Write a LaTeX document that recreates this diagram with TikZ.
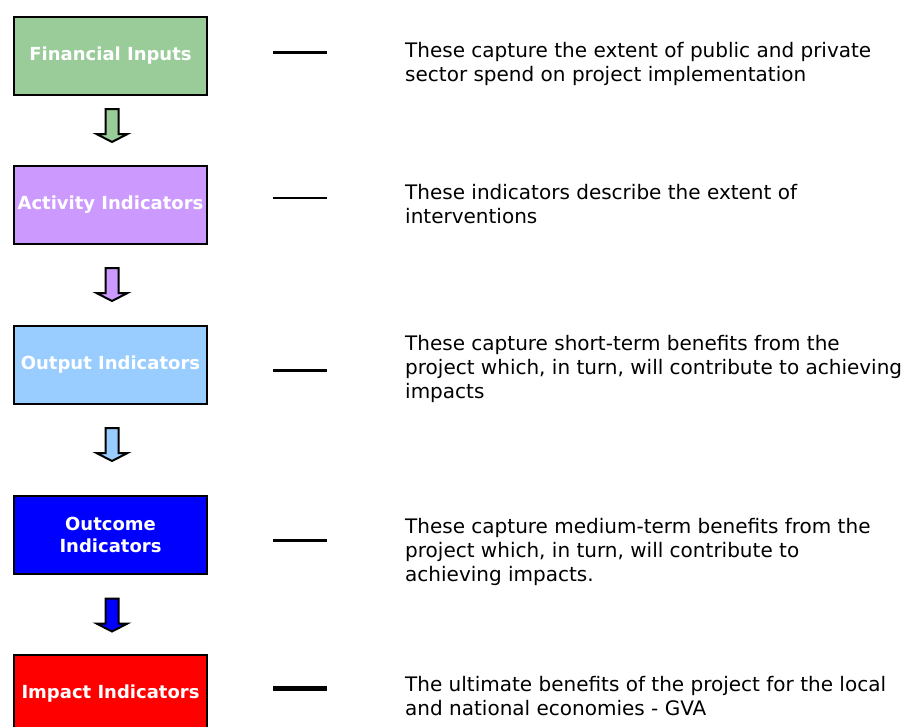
\documentclass[tikz,border=0pt]{standalone}
\usepackage{fontspec}
\setmainfont{DejaVu Sans}
\usetikzlibrary{calc}
\definecolor{fingreen}{HTML}{99CC99}
\definecolor{actlilac}{HTML}{CC99FF}
\definecolor{outsky}{HTML}{99CCFF}
\definecolor{outcblue}{HTML}{0000FF}
\definecolor{impred}{HTML}{FF0000}
\begin{document}
\begin{tikzpicture}[x=1pt,y=-1pt] % chain of indicators
\tikzstyle{stagebox} = [draw, line width=2pt, minimum width=193pt, minimum height=78pt, inner sep=0pt, text=white, align=center, font=\fontsize{18}{22}\selectfont\bfseries] % coloured stage box
\tikzstyle{stagenote} = [anchor=north west, inner sep=0pt, align=left, font=\fontsize{20}{24}\selectfont] % text on the right
\tikzset{flowarrow/.pic={\path[draw, line width=2pt, line join=miter, pic actions] (-6.5,0) -- (-6.5,25) -- (-15.5,25) -- (0,33) -- (15.5,25) -- (6.5,25) -- (6.5,0) -- cycle;}} % block arrow pointing down

\useasboundingbox (0,0) rectangle (905,726);

\node[stagebox, fill=fingreen] (fin) at (110.5,56) {Financial Inputs}; % the five stages
\node[stagebox, fill=actlilac] (act) at (110.5,205) {Activity Indicators};
\node[stagebox, fill=outsky] (outp) at (110.5,365) {Output Indicators};
\node[stagebox, fill=outcblue] (outc) at (110.5,534.5) {Outcome\\Indicators};
\node[stagebox, fill=impred] (imp) at (110.5,694) {Impact Indicators};

\foreach \from/\col/\gap in {fin/fingreen/13, act/actlilac/23, outp/outsky/23, outc/outcblue/24} % arrows between stages
    \pic[fill=\col] at ($(\from.south)+(1.5,\gap)$) {flowarrow};

\foreach \y/\w in {52.3/3, 198/2, 370.5/3, 540.5/3, 688/5} % short dashes
    \draw[line width=\w pt] (273,\y) -- (327,\y);

\node[stagenote] (n1) at (405,42) {These capture the extent of public and private\\sector spend on project implementation};
\node[stagenote] (n2) at (405,184) {These indicators describe the extent of\\interventions};
\node[stagenote] (n3) at (405,335) {These capture short-term benefits from the\\project which, in turn, will contribute to achieving\\impacts};
\node[stagenote] (n4) at (405,518) {These capture medium-term benefits from the\\project which, in turn, will contribute to\\achieving impacts.};
\node[stagenote] (n5) at (405,676) {The ultimate benefits of the project for the local\\and national economies - GVA};
\end{tikzpicture}
\end{document}
